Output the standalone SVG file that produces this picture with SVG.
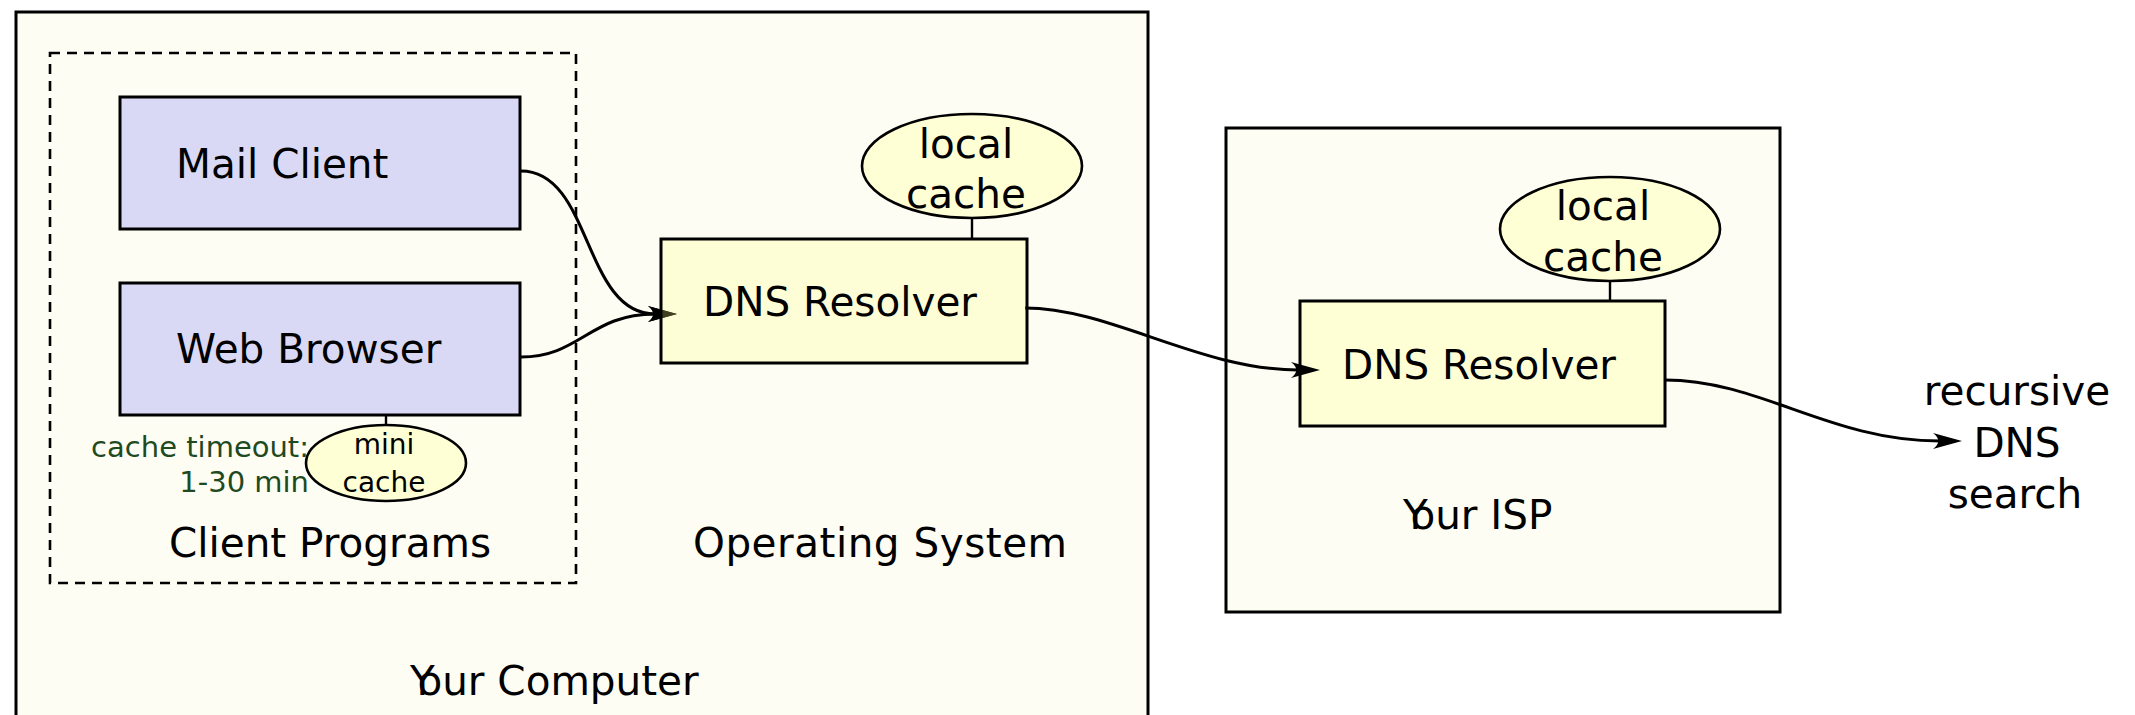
<svg xmlns="http://www.w3.org/2000/svg" width="2135" height="715" viewBox="0 0 2135 715">
<defs>
<style>
text{font-family:"DejaVu Sans","Liberation Sans",sans-serif;font-size:40.5px;fill:#000}
.container{fill:#fdfdf3;stroke:#000;stroke-width:3}
.dashed{fill:none;stroke:#000;stroke-width:2.6;stroke-dasharray:10,7}
.client{fill:#d9d9f6;stroke:#000;stroke-width:3}
.resolver{fill:#ffffd5;stroke:#000;stroke-width:3}
.resolver-t{fill:#ffff80;fill-opacity:0.25;stroke:#000;stroke-width:3}
.cache{fill:#ffffd5;stroke:#000;stroke-width:2.6}
.tie{stroke:#000;stroke-width:2.4;fill:none}
.conn{fill:none;stroke:#000;stroke-width:3}
.mid{text-anchor:middle}
.small{font-size:28px}
.note{font-size:29px;fill:#1f4a1f;text-anchor:end}
</style>
<marker id="arr" viewBox="-9 -10 33 20" markerWidth="33" markerHeight="20" refX="0" refY="0" orient="auto" markerUnits="userSpaceOnUse">
<path d="M22,0 L-7,-8 C0,-3 0,3 -7,8 Z" fill="#000"/>
</marker>
</defs>
<rect width="2135" height="715" fill="#fff"/>

<g id="your-computer">
<rect class="container" x="16" y="12" width="1132" height="730"/>
<text x="410" y="695" dx="0 -12">Your Computer</text>
<text x="693" y="557" textLength="374" lengthAdjust="spacing">Operating System</text>
</g>

<g id="client-programs">
<rect class="dashed" x="50" y="53" width="526" height="530"/>
<text x="169" y="557">Client Programs</text>
</g>

<g id="your-isp">
<rect class="container" x="1226" y="128" width="554" height="484"/>
<text x="1403" y="529" dx="0 -12">Your ISP</text>
</g>

<g id="isp-resolver">
<rect class="resolver" x="1300" y="301" width="365" height="125"/>
<text x="1342" y="379">DNS Resolver</text>
</g>

<g id="isp-local-cache">
<line class="tie" x1="1610" y1="281" x2="1610" y2="301"/>
<ellipse class="cache" cx="1610" cy="229" rx="110" ry="52"/>
<text class="mid" x="1603" y="220">local</text>
<text class="mid" x="1603" y="271">cache</text>
</g>

<g id="mail-client">
<rect class="client" x="120" y="97" width="400" height="132"/>
<text x="176" y="178">Mail Client</text>
</g>

<g id="web-browser">
<rect class="client" x="120" y="283" width="400" height="132"/>
<text x="176" y="363">Web Browser</text>
</g>

<g id="mini-cache">
<line class="tie" x1="386" y1="415" x2="386" y2="426"/>
<ellipse class="cache" cx="386" cy="463" rx="80" ry="38"/>
<text class="mid small" x="384" y="454">mini</text>
<text class="mid small" x="384" y="492">cache</text>
<text class="note" x="309" y="457">cache timeout:</text>
<text class="note" x="309" y="492">1-30 min</text>
</g>

<g id="connectors">
<path class="conn" d="M521,171 C592,171 583,314 655,314" marker-end="url(#arr)"/>
<path class="conn" d="M521,357 C580,357 590,314 655,314" marker-end="url(#arr)"/>
<path class="conn" d="M1025,308 C1110,308 1200,370 1298,370" marker-end="url(#arr)"/>
<path class="conn" d="M1665,380 C1760,380 1830,441 1940,441" marker-end="url(#arr)"/>
</g>

<g id="os-resolver">
<rect class="resolver-t" x="661" y="239" width="366" height="124"/>
<text x="703" y="316">DNS Resolver</text>
</g>

<g id="os-local-cache">
<line class="tie" x1="972" y1="218" x2="972" y2="239"/>
<ellipse class="cache" cx="972" cy="166" rx="110" ry="52"/>
<text class="mid" x="966" y="158">local</text>
<text class="mid" x="966" y="208">cache</text>
</g>

<g id="recursive-search">
<text class="mid" x="2017" y="405">recursive</text>
<text class="mid" x="2017" y="457">DNS</text>
<text class="mid" x="2015" y="508">search</text>
</g>
</svg>
